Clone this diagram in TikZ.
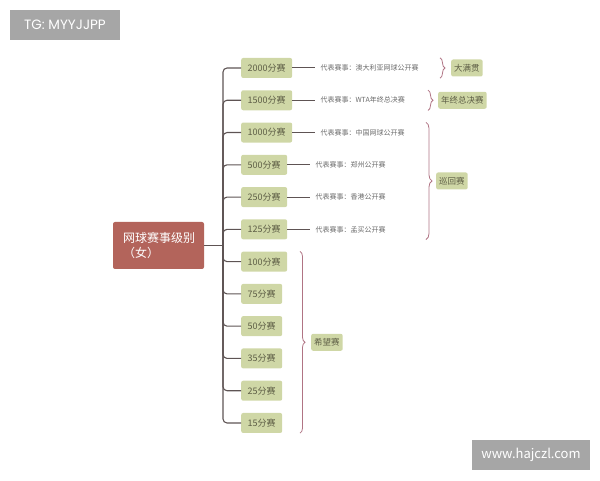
\documentclass[tikz,border=0pt]{standalone}
\usepackage{fontspec}
\setmainfont{Noto Sans CJK SC}
\newfontfamily\wmfont{Poppins}
\usepackage{tikz}
\usetikzlibrary{positioning,calc,decorations.pathreplacing}

\definecolor{rootred}{HTML}{B3645B}
\definecolor{gradegreen}{HTML}{CFD7A6}
\definecolor{gradetext}{HTML}{5D5D45}
\definecolor{eventgray}{HTML}{6A6A6A}
\definecolor{linegray}{HTML}{5E5454}
\definecolor{bracered}{HTML}{B07484}
\definecolor{wmgray}{HTML}{A6A6A6}

\begin{document}
\begin{tikzpicture}[x=1pt,y=1pt,
    rootbox/.style={fill=rootred,text=white,rounded corners=2pt,minimum width=91pt,
      minimum height=47pt,inner xsep=10pt,text width=71pt,align=left,
      font=\fontsize{12}{15}\selectfont},
    gradebox/.style={fill=gradegreen,text=gradetext,rounded corners=2pt,minimum height=20pt,
      inner xsep=6.5pt,anchor=west,font=\fontsize{9}{9}\selectfont},
    groupbox/.style={gradebox,minimum height=17pt,inner xsep=3pt,font=\fontsize{8.5}{8.5}\selectfont},
    eventtext/.style={text=eventgray,inner xsep=5pt,font=\fontsize{7}{7}\selectfont},
    branch/.style={draw=linegray,line width=1.1pt,rounded corners=4pt},
    link/.style={draw=linegray,line width=1pt},
    groupbrace/.style={draw=bracered,line width=0.8pt,decorate,decoration={brace,amplitude=#1}},
    wmark/.style={fill=wmgray,text=white,minimum height=30pt,font=\fontsize{13}{13}\selectfont}]
  \useasboundingbox (0,0) rectangle (600,480);
  \node[wmark,minimum width=110pt,font=\wmfont\fontsize{13.5}{13.5}\selectfont] (tg) at (65,455) {TG: MYYJJPP};
  \node[wmark,minimum width=118pt] (www) at (531,25) {www.hajczl.com};
  \node[rootbox] (root) at (158.5,234.5) {网球赛事级别\\（女）};
  \coordinate (trunk) at (root.east -| 223,0);
  % grades
  \foreach \label [count=\i] in {2000,1500,1000,500,250,125,100,75,50,35,25,15}
    \node[gradebox] (c\i) at (241,{412-32.27*(\i-1)}) {\label 分赛};
  \draw[link,line width=1.1pt] (root.east) -- (trunk);
  \foreach \i in {1,...,12}
    \draw[branch] (trunk) |- (c\i.west);
  % events
  \foreach \i/\label in {1/澳大利亚网球公开赛,2/WTA年终总决赛,3/中国网球公开赛,4/郑州公开赛,5/香港公开赛,6/孟买公开赛}
  {
    \node[eventtext,right=23pt of c\i] (d\i) {代表赛事：\label};
    \draw[link] (c\i.east) -- (d\i.west);
  }
  % groups
  \coordinate (m3) at ($(c3)!.5!(c6)$);
  \coordinate (m4) at ($(c7)!.5!(c12)$);
  \draw[groupbrace=5pt] (c1.north -| 440,0) -- (c1.south -| 440,0);
  \draw[groupbrace=5pt] (c2.north -| 428,0) -- (c2.south -| 428,0);
  \draw[groupbrace=6pt] (c3.north -| 426,0) -- (c6.south -| 426,0);
  \draw[groupbrace=5pt] (c7.north -| 300,0) -- (c12.south -| 300,0);
  \node[groupbox] (g1) at (c1 -| 451,0) {大满贯};
  \node[groupbox] (g2) at (c2 -| 438,0) {年终总决赛};
  \node[groupbox] (g3) at (m3 -| 436,0) {巡回赛};
  \node[groupbox] (g4) at (m4 -| 311,0) {希望赛};
\end{tikzpicture}
\end{document}
